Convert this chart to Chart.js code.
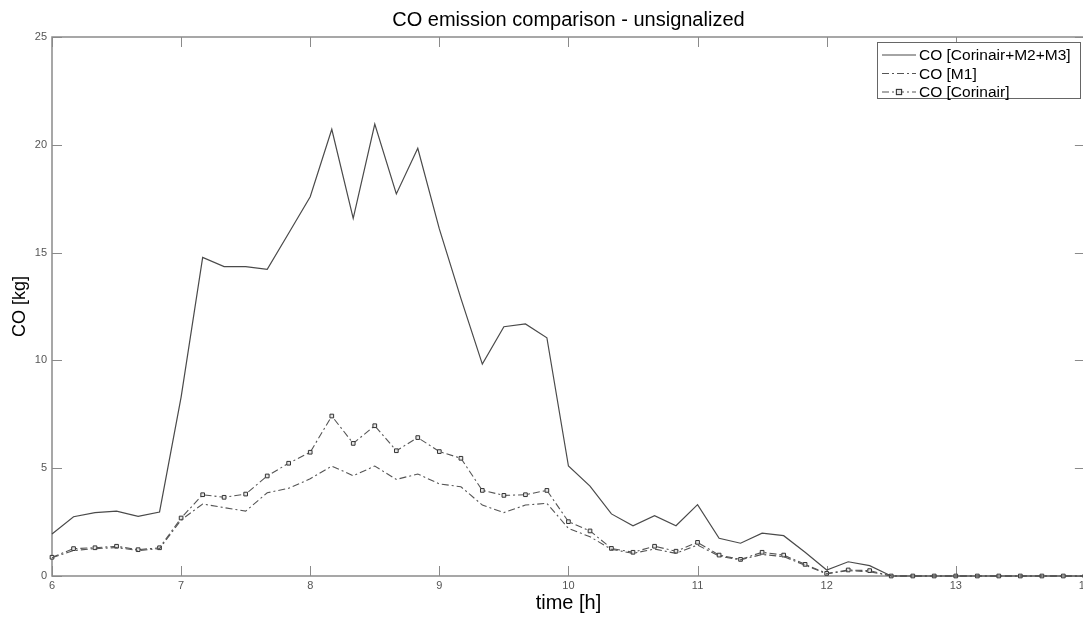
<!DOCTYPE html>
<html><head><meta charset="utf-8">
<script src="https://cdn.jsdelivr.net/npm/chart.js@4.4.1/dist/chart.umd.min.js"></script>
<style>
html,body{margin:0;padding:0;background:#fff;overflow:hidden;width:1083px;height:617px}
#wrap{position:absolute;left:0;top:0;width:1094px;height:617px}
</style>
</head><body><div id="wrap"><canvas id="c" width="1094" height="617"></canvas></div>
<script>
// time of day [h], 10-minute steps
const times = [6.000,6.167,6.333,6.500,6.667,6.833,7.000,7.167,7.333,7.500,7.667,7.833,
  8.000,8.167,8.333,8.500,8.667,8.833,9.000,9.167,9.333,9.500,9.667,9.833,
  10.000,10.167,10.333,10.500,10.667,10.833,11.000,11.167,11.333,11.500,11.667,11.833,
  12.000,12.167,12.333,12.500,12.667,12.833,13.000,13.167,13.333,13.500,13.667,13.833,14.000];

const coTotal = [1.95,2.75,2.94,3.01,2.77,2.97,8.3,14.78,14.35,14.35,14.22,15.9,
  17.59,20.72,16.59,20.96,17.72,19.84,16.1,12.88,9.83,11.56,11.69,11.05,
  5.10,4.17,2.88,2.33,2.80,2.33,3.31,1.75,1.52,1.99,1.87,1.1,
  0.28,0.66,0.48,0,0,0,0,0,0,0,0,0,0];

const coM1 = [0.85,1.18,1.27,1.32,1.18,1.27,2.6,3.34,3.17,3.01,3.86,4.07,
  4.51,5.10,4.65,5.10,4.48,4.73,4.27,4.14,3.29,2.94,3.29,3.37,
  2.21,1.82,1.24,1.05,1.25,1.05,1.44,0.92,0.75,1.0,0.9,0.5,
  0.1,0.25,0.2,0,0,0,0,0,0,0,0,0,0];

const coCorinair = [0.87,1.27,1.31,1.38,1.22,1.31,2.69,3.77,3.65,3.80,4.64,5.23,
  5.74,7.42,6.15,6.97,5.81,6.42,5.77,5.46,3.97,3.74,3.77,3.97,
  2.52,2.09,1.28,1.10,1.38,1.15,1.56,0.97,0.77,1.10,0.97,0.54,
  0.12,0.28,0.25,0,0,0,0,0,0,0,0,0,0];

const seriesLabels = ['CO [Corinair+M2+M3]','CO [M1]','CO [Corinair]'];
const chartTitle = 'CO emission comparison - unsignalized';
const xTitle = 'time [h]';
const yTitle = 'CO [kg]';

const FONT = "'Liberation Sans', Arial, Helvetica, sans-serif";
const toXY = arr => arr.map((v,i)=>({x:times[i], y:v}));

const framePlugin = {
  id:'frame',
  beforeDatasetsDraw(chart){
    const {ctx, chartArea:a, scales:{x,y}} = chart;
    ctx.save();
    ctx.strokeStyle='#8a8a8a';
    ctx.lineWidth=1.5;
    ctx.strokeRect(a.left, a.top, a.right-a.left, a.bottom-a.top);
    ctx.lineWidth=1;
    ctx.beginPath();
    x.ticks.forEach(t=>{
      const px=Math.round(x.getPixelForValue(t.value))+0.5;
      ctx.moveTo(px,a.bottom); ctx.lineTo(px,a.bottom-10);
      ctx.moveTo(px,a.top); ctx.lineTo(px,a.top+10);
    });
    y.ticks.forEach(t=>{
      const py=Math.round(y.getPixelForValue(t.value))+0.5;
      ctx.moveTo(a.left,py); ctx.lineTo(a.left+10,py);
      ctx.moveTo(a.right,py); ctx.lineTo(a.right-10,py);
    });
    ctx.stroke();
    ctx.restore();
  }
};

const legendPlugin = {
  id:'boxLegend',
  afterDraw(chart){
    const {ctx} = chart;
    const left=877, top=42, w=203, h=56;
    ctx.save();
    ctx.fillStyle='#fff';
    ctx.fillRect(left,top,w,h);
    ctx.strokeStyle='#666';
    ctx.lineWidth=1;
    ctx.strokeRect(left+0.5,top+0.5,w,h);
    chart.data.datasets.forEach((ds,i)=>{
      const yy = top + 13 + i*18.5;
      ctx.strokeStyle=ds.borderColor;
      ctx.lineWidth=ds.borderWidth;
      ctx.setLineDash(ds.borderDash||[]);
      ctx.beginPath(); ctx.moveTo(882,yy); ctx.lineTo(916,yy); ctx.stroke();
      ctx.setLineDash([]);
      if (ds.pointRadius>0){
        const r=ds.pointRadius;
        ctx.fillStyle=ds.pointBackgroundColor;
        ctx.fillRect(899-r,yy-r,2*r,2*r);
        ctx.strokeStyle=ds.pointBorderColor;
        ctx.strokeRect(899-r,yy-r,2*r,2*r);
      }
      ctx.fillStyle='#000';
      ctx.font='15.5px '+FONT;
      ctx.textBaseline='middle';
      ctx.textAlign='left';
      ctx.fillText(ds.label, 919, yy+1);
    });
    ctx.restore();
  }
};

new Chart(document.getElementById('c'), {
  type:'line',
  data:{
    datasets:[
      {label:seriesLabels[0], data:toXY(coTotal), borderColor:'#4a4a4a', borderWidth:1.2,
        pointRadius:0, tension:0, clip:false},
      {label:seriesLabels[1], data:toXY(coM1), borderColor:'#555', borderWidth:1.1,
        borderDash:[7,3,2,3], pointRadius:0, tension:0, clip:false},
      {label:seriesLabels[2], data:toXY(coCorinair), borderColor:'#555', borderWidth:1.1,
        borderDash:[7,3,2,3], pointStyle:'rect', pointRadius:2.6, pointBorderWidth:1,
        pointBorderColor:'#333', pointBackgroundColor:'#e6e6e6', tension:0, clip:false}
    ]
  },
  options:{
    responsive:false, animation:false, devicePixelRatio:1,
    layout:{padding:{left:0,right:0,top:0,bottom:0}},
    plugins:{
      legend:{display:false},
      tooltip:{enabled:false},
      title:{display:true, text:chartTitle, fullSize:false, color:'#000',
        font:{size:20, family:FONT, weight:'normal'}, padding:{top:8,bottom:5}}
    },
    scales:{
      x:{type:'linear', min:6, max:14,
        ticks:{stepSize:1, color:'#555', font:{size:11, family:FONT}, padding:3, maxRotation:0,
          callback:v=>String(v)},
        grid:{display:false, drawTicks:false}, border:{display:false},
        title:{display:true, text:xTitle, color:'#000', font:{size:20, family:FONT}, padding:{top:0,bottom:2}},
        afterFit(s){ s.height=41; }
      },
      y:{type:'linear', min:0, max:25,
        ticks:{stepSize:5, color:'#555', font:{size:11, family:FONT}, padding:5},
        grid:{display:false, drawTicks:false}, border:{display:false},
        title:{display:true, text:yTitle, color:'#000', font:{size:18, family:FONT}, padding:{top:9,bottom:0}},
        afterFit(s){ s.width=52; }
      }
    }
  },
  plugins:[framePlugin, legendPlugin]
});
</script>
</body></html>
